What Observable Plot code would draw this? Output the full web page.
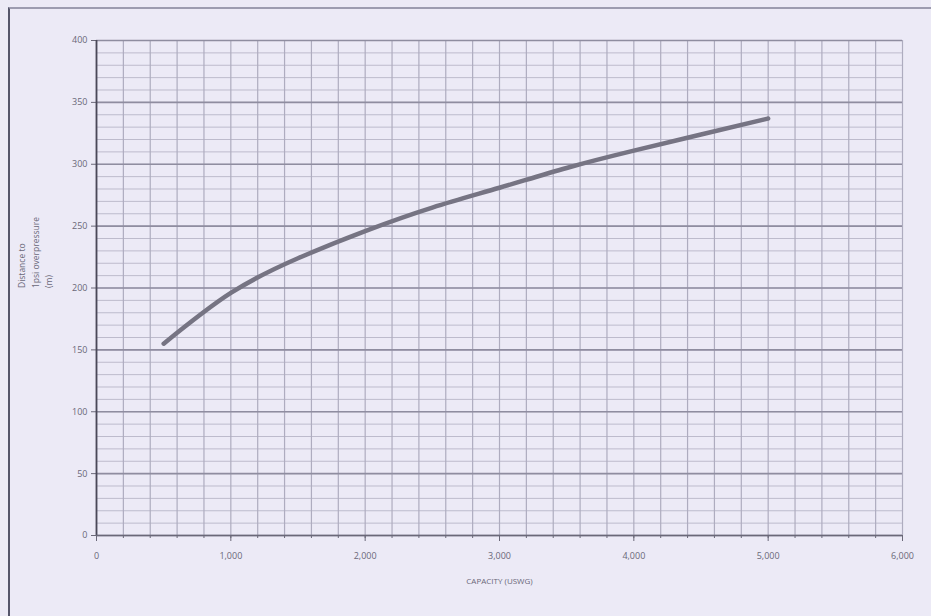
<!DOCTYPE html>
<html>
<head>
<meta charset="utf-8">
<script src="https://cdn.jsdelivr.net/npm/d3@7"></script>
<script src="https://cdn.jsdelivr.net/npm/@observablehq/plot@0.6"></script>
<style>
  html, body { margin: 0; padding: 0; background: #eceaf6; }
  #wrap { position: relative; width: 931px; height: 616px; overflow: hidden; background: #eceaf6; }
  #frame { position: absolute; left: 8px; top: 7px; width: 940px; height: 640px;
           border-left: 2px solid #55556a; border-top: 2px solid #9d9cb0; pointer-events: none; }
  svg { display: block; }
</style>
</head>
<body>
<div id="wrap"><div id="frame"></div></div>
<script>
// Values
const capacity = [500, 1000, 1500, 2000, 2500, 3000, 3500, 4000, 4500, 5000];
const distance = [155, 196, 224, 246, 265, 281, 297, 311, 324, 337];

const xTicks = [0, 1000, 2000, 3000, 4000, 5000, 6000];
const yTicks = [0, 50, 100, 150, 200, 250, 300, 350, 400];
const xMinor = d3.range(0, 6001, 200);
const yMinor = d3.range(0, 401, 10);

const xTitle = "CAPACITY (USWG)";
const yTitle = "Distance to\n1psi overpressure\n(m)";

const data = capacity.map((c, i) => ({capacity: c, distance: distance[i]}));

const chart = Plot.plot({
  width: 931,
  height: 616,
  marginLeft: 96,
  marginRight: 29,
  marginTop: 40,
  marginBottom: 81,
  style: {background: "transparent", fontFamily: "'Open Sans', sans-serif", fontSize: "9px", color: "#6a6878"},
  x: {domain: [0, 6000], ticks: xTicks, tickFormat: d3.format(","), label: null},
  y: {domain: [0, 400], ticks: yTicks, label: null},
  marks: [
    Plot.ruleY(yMinor, {stroke: "#bdbbcc", strokeWidth: 1}),
    Plot.ruleX(xMinor, {stroke: "#aeacbf", strokeWidth: 1.2}),
    Plot.ruleY(yTicks, {stroke: "#8f8da0", strokeWidth: 1.6}),
    Plot.axisX(xMinor, {tickSize: 3, tickFormat: () => "", stroke: "#6a6878"}),
    Plot.axisX(xTicks, {tickSize: 6, tickFormat: d3.format(","), tickPadding: 11, fill: "#6a6878", stroke: "#6a6878"}),
    Plot.axisY(yTicks, {tickSize: 5, tickPadding: 4, fill: "#6a6878", stroke: "#6a6878"}),
    Plot.ruleX([0], {stroke: "#4a4858", strokeWidth: 1.8}),
    Plot.ruleY([0], {stroke: "#6a6878", strokeWidth: 1.4}),
    Plot.line(data, {x: "capacity", y: "distance", curve: "natural", stroke: "#767483", strokeWidth: 4.5}),
    Plot.text([xTitle], {frameAnchor: "bottom", dy: 48, text: d => d, fill: "#6a6878", fontSize: 8}),
    Plot.text([yTitle], {frameAnchor: "left", dx: -62, rotate: -90, text: d => d, fill: "#6a6878", fontSize: 8.5, lineHeight: 1.6})
  ]
});
document.getElementById("wrap").appendChild(chart);
chart.style.position = "absolute";
chart.style.left = "0";
chart.style.top = "0";
</script>
</body>
</html>
